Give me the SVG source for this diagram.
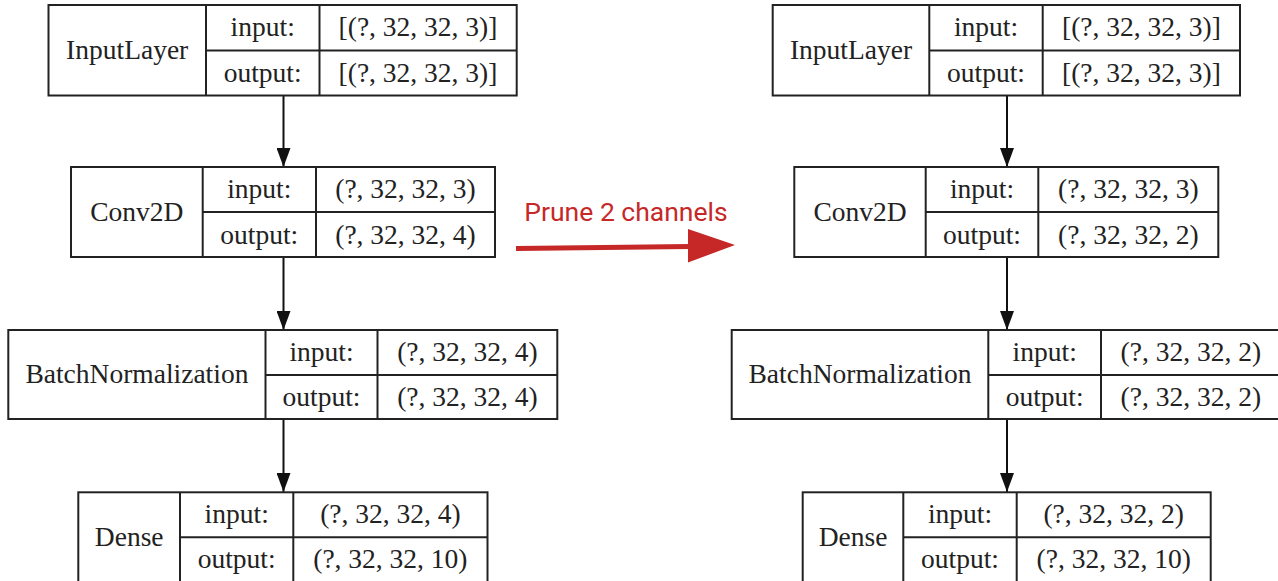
<svg xmlns="http://www.w3.org/2000/svg" width="1278" height="581" viewBox="0 0 1278 581">
<style>
.box{fill:#fff;stroke:#222;stroke-width:2}
.ln{stroke:#222;stroke-width:2;fill:none}
.t{font-family:"Liberation Serif","Times New Roman",serif;font-size:27.5px;fill:#222;text-anchor:middle}
.edge{stroke:#111;stroke-width:2;fill:none}
.red{font-family:Roboto,"Liberation Sans",sans-serif;font-size:26.5px;fill:#c62828;text-anchor:middle}
</style>
<defs>
<marker id="ah" markerWidth="19" markerHeight="14" refX="19" refY="7" orient="auto" markerUnits="userSpaceOnUse" viewBox="0 0 19 14">
<path d="M0,0 L19,7 L0,14 Z" fill="#111"/>
</marker>
</defs>
<rect width="1278" height="581" fill="#fff"/>

<g id="connectors">
<line class="edge" x1="283.5" y1="95.5" x2="283.5" y2="167" marker-end="url(#ah)"/>
<line class="edge" x1="283.5" y1="257" x2="283.5" y2="330" marker-end="url(#ah)"/>
<line class="edge" x1="283.5" y1="419" x2="283.5" y2="492" marker-end="url(#ah)"/>
<line class="edge" x1="1007" y1="95.5" x2="1007" y2="167" marker-end="url(#ah)"/>
<line class="edge" x1="1007" y1="257" x2="1007" y2="330" marker-end="url(#ah)"/>
<line class="edge" x1="1007" y1="419" x2="1007" y2="492" marker-end="url(#ah)"/>
</g>

<g id="left-input">
<rect class="box" x="48.5" y="5" width="468.2" height="90.5"/>
<line class="ln" x1="206" y1="5" x2="206" y2="95.5"/>
<line class="ln" x1="319.5" y1="5" x2="319.5" y2="95.5"/>
<line class="ln" x1="206" y1="50.5" x2="516.7" y2="50.5"/>
<text class="t" x="127.2" y="59">InputLayer</text>
<text class="t" x="262.7" y="36">input:</text>
<text class="t" x="262.7" y="82">output:</text>
<text class="t" x="418" y="36">[(?, 32, 32, 3)]</text>
<text class="t" x="418" y="82">[(?, 32, 32, 3)]</text>
</g>

<g id="left-conv">
<rect class="box" x="71" y="167" width="424" height="90"/>
<line class="ln" x1="202.7" y1="167" x2="202.7" y2="257"/>
<line class="ln" x1="316" y1="167" x2="316" y2="257"/>
<line class="ln" x1="202.7" y1="212" x2="495" y2="212"/>
<text class="t" x="136.8" y="221">Conv2D</text>
<text class="t" x="259.3" y="198">input:</text>
<text class="t" x="259.3" y="244">output:</text>
<text class="t" x="405.5" y="198">(?, 32, 32, 3)</text>
<text class="t" x="405.5" y="244">(?, 32, 32, 4)</text>
</g>

<g id="left-bn">
<rect class="box" x="8.3" y="330" width="549" height="89"/>
<line class="ln" x1="265.5" y1="330" x2="265.5" y2="419"/>
<line class="ln" x1="377.5" y1="330" x2="377.5" y2="419"/>
<line class="ln" x1="265.5" y1="375" x2="557.3" y2="375"/>
<text class="t" x="136.9" y="383">BatchNormalization</text>
<text class="t" x="321.5" y="361">input:</text>
<text class="t" x="321.5" y="406">output:</text>
<text class="t" x="467.4" y="361">(?, 32, 32, 4)</text>
<text class="t" x="467.4" y="406">(?, 32, 32, 4)</text>
</g>

<g id="left-dense">
<rect class="box" x="78.3" y="492.3" width="409.2" height="92"/>
<line class="ln" x1="180" y1="492.3" x2="180" y2="584"/>
<line class="ln" x1="293.3" y1="492.3" x2="293.3" y2="584"/>
<line class="ln" x1="180" y1="537.3" x2="487.5" y2="537.3"/>
<text class="t" x="129.2" y="546">Dense</text>
<text class="t" x="236.7" y="523">input:</text>
<text class="t" x="236.7" y="568">output:</text>
<text class="t" x="390.4" y="523">(?, 32, 32, 4)</text>
<text class="t" x="390.4" y="568">(?, 32, 32, 10)</text>
</g>

<g id="prune-arrow">
<text class="red" x="626" y="221">Prune 2 channels</text>
<line x1="516" y1="248.5" x2="690" y2="246.5" stroke="#c62828" stroke-width="5"/>
<polygon points="688,229 735,245 688,262.5" fill="#c62828"/>
</g>

<g id="right-input">
<rect class="box" x="772.7" y="5" width="467.3" height="90.5"/>
<line class="ln" x1="929.3" y1="5" x2="929.3" y2="95.5"/>
<line class="ln" x1="1042.7" y1="5" x2="1042.7" y2="95.5"/>
<line class="ln" x1="929.3" y1="50.5" x2="1240" y2="50.5"/>
<text class="t" x="851" y="59">InputLayer</text>
<text class="t" x="986" y="36">input:</text>
<text class="t" x="986" y="82">output:</text>
<text class="t" x="1141.4" y="36">[(?, 32, 32, 3)]</text>
<text class="t" x="1141.4" y="82">[(?, 32, 32, 3)]</text>
</g>

<g id="right-conv">
<rect class="box" x="794.3" y="167" width="424" height="90"/>
<line class="ln" x1="925.7" y1="167" x2="925.7" y2="257"/>
<line class="ln" x1="1038.3" y1="167" x2="1038.3" y2="257"/>
<line class="ln" x1="925.7" y1="212" x2="1218.3" y2="212"/>
<text class="t" x="860" y="221">Conv2D</text>
<text class="t" x="982" y="198">input:</text>
<text class="t" x="982" y="244">output:</text>
<text class="t" x="1128.3" y="198">(?, 32, 32, 3)</text>
<text class="t" x="1128.3" y="244">(?, 32, 32, 2)</text>
</g>

<g id="right-bn">
<rect class="box" x="731.7" y="330" width="549" height="89"/>
<line class="ln" x1="988.3" y1="330" x2="988.3" y2="419"/>
<line class="ln" x1="1101" y1="330" x2="1101" y2="419"/>
<line class="ln" x1="988.3" y1="375" x2="1280.7" y2="375"/>
<text class="t" x="860" y="383">BatchNormalization</text>
<text class="t" x="1044.7" y="361">input:</text>
<text class="t" x="1044.7" y="406">output:</text>
<text class="t" x="1190.8" y="361">(?, 32, 32, 2)</text>
<text class="t" x="1190.8" y="406">(?, 32, 32, 2)</text>
</g>

<g id="right-dense">
<rect class="box" x="802.7" y="492.3" width="408" height="92"/>
<line class="ln" x1="903.3" y1="492.3" x2="903.3" y2="584"/>
<line class="ln" x1="1016.7" y1="492.3" x2="1016.7" y2="584"/>
<line class="ln" x1="903.3" y1="537.3" x2="1210.7" y2="537.3"/>
<text class="t" x="853" y="546">Dense</text>
<text class="t" x="960" y="523">input:</text>
<text class="t" x="960" y="568">output:</text>
<text class="t" x="1113.7" y="523">(?, 32, 32, 2)</text>
<text class="t" x="1113.7" y="568">(?, 32, 32, 10)</text>
</g>
</svg>
